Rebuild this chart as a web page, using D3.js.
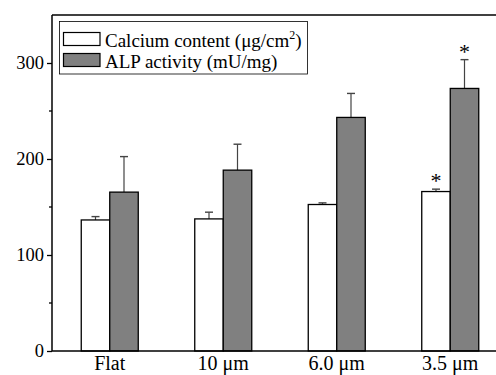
<!DOCTYPE html>
<html>
<head>
<meta charset="utf-8">
<script src="https://cdn.jsdelivr.net/npm/d3@7"></script>
<style>
  body { margin: 0; background: #fff; }
  text { font-family: "Liberation Serif", "Times New Roman", serif; }
</style>
</head>
<body>
<div id="chart"></div>
<script>
// data
var categories = ["Flat", "10 \u03bcm", "6.0 \u03bcm", "3.5 \u03bcm"];
var seriesNames = ["calcium", "alp"];
var calcium = [136.5, 137.6, 152.6, 166.1];
var calciumErr = [3.5, 7, 1.7, 2.5];
var alp = [165.5, 188.4, 243.3, 273.5];
var alpErr = [37, 27, 25, 30];
var starred = [[3, "calcium"], [3, "alp"]];
var yTicks = [0, 100, 200, 300];
var yMinorTicks = [50, 150, 250];

var width = 496, height = 375;
var mLeft = 52, mTop = 15, mBottom = 351;

var svg = d3.select("#chart").append("svg")
  .attr("width", width)
  .attr("height", height);

var x = d3.scaleBand()
  .domain(categories)
  .range([53, 507]);

var xs = d3.scaleBand()
  .domain(seriesNames)
  .range([-28.5, 28.5]);

var y = d3.scaleLinear()
  .domain([0, 350])
  .range([mBottom, mTop]);

var flat = [];
categories.forEach(function (c, i) {
  flat.push({ cat: c, key: "calcium", v: calcium[i], e: calciumErr[i], i: i });
  flat.push({ cat: c, key: "alp", v: alp[i], e: alpErr[i], i: i });
});

var fills = { calcium: "#ffffff", alp: "#808080" };

function barCenter(d) {
  return x(d.cat) + x.bandwidth() / 2 + xs(d.key) + xs.bandwidth() / 2;
}

// error bars (upward only), drawn under the bars
var eb = svg.append("g");
flat.forEach(function (d) {
  var cx = barCenter(d);
  eb.append("line")
    .attr("x1", cx).attr("x2", cx)
    .attr("y1", y(d.v)).attr("y2", y(d.v + d.e))
    .attr("stroke", "#444").attr("stroke-width", 1.2);
  eb.append("line")
    .attr("x1", cx - 4).attr("x2", cx + 4)
    .attr("y1", y(d.v + d.e)).attr("y2", y(d.v + d.e))
    .attr("stroke", "#444").attr("stroke-width", 1.4);
});

// bars
svg.append("g").selectAll("rect")
  .data(flat)
  .enter().append("rect")
  .attr("x", function (d) { return x(d.cat) + x.bandwidth() / 2 + xs(d.key); })
  .attr("y", function (d) { return y(d.v); })
  .attr("width", xs.bandwidth())
  .attr("height", function (d) { return y(0) - y(d.v); })
  .attr("fill", function (d) { return fills[d.key]; })
  .attr("stroke", "#000")
  .attr("stroke-width", 1.3);

// significance stars
starred.forEach(function (s) {
  var d = flat.filter(function (r) { return r.i === s[0] && r.key === s[1]; })[0];
  svg.append("text")
    .attr("x", barCenter(d))
    .attr("y", y(d.v + d.e) - 1)
    .attr("text-anchor", "middle")
    .attr("font-size", 22)
    .text("*");
});

// y axis
var ya = svg.append("g")
  .attr("transform", "translate(" + mLeft + ",0)")
  .call(d3.axisLeft(y).tickValues(yTicks).tickSize(5).tickPadding(3));
ya.select(".domain").remove();
ya.selectAll("text").attr("font-size", 18.5).attr("fill", "#000")
  .attr("font-family", "Liberation Serif");
ya.selectAll("line").attr("stroke-width", 1.3);
svg.append("g").selectAll("line")
  .data(yMinorTicks)
  .enter().append("line")
  .attr("x1", mLeft - 3).attr("x2", mLeft)
  .attr("y1", function (d) { return y(d); })
  .attr("y2", function (d) { return y(d); })
  .attr("stroke", "#000").attr("stroke-width", 1.3);

// x axis
var xa = svg.append("g")
  .attr("transform", "translate(0," + mBottom + ")")
  .call(d3.axisBottom(x).tickSize(0).tickPadding(5));
xa.select(".domain").remove();
xa.selectAll("text").attr("font-size", 20).attr("fill", "#000")
  .attr("font-family", "Liberation Serif");

// frame lines
svg.append("line").attr("x1", mLeft).attr("x2", width)
  .attr("y1", mBottom).attr("y2", mBottom)
  .attr("stroke", "#000").attr("stroke-width", 1.5);
svg.append("line").attr("x1", mLeft).attr("x2", width)
  .attr("y1", mTop).attr("y2", mTop)
  .attr("stroke", "#000").attr("stroke-width", 1.5);
svg.append("line").attr("x1", mLeft).attr("x2", mLeft)
  .attr("y1", mTop).attr("y2", mBottom)
  .attr("stroke", "#000").attr("stroke-width", 1.5);

// legend
var lg = svg.append("g");
lg.append("rect")
  .attr("x", 59.5).attr("y", 21.5)
  .attr("width", 248).attr("height", 52.5)
  .attr("fill", "#fff").attr("stroke", "#000").attr("stroke-width", 0.8);
var legendItems = [
  { key: "calcium", label: "Calcium content (\u03bcg/cm", sup: "2", tail: ")" },
  { key: "alp", label: "ALP activity (mU/mg)" }
];
legendItems.forEach(function (d, i) {
  var yy = 32.5 + i * 21;
  lg.append("rect")
    .attr("x", 63.5).attr("y", yy)
    .attr("width", 36.5).attr("height", 13)
    .attr("fill", fills[d.key]).attr("stroke", "#000").attr("stroke-width", 1.2);
  var t = lg.append("text")
    .attr("x", 105).attr("y", yy + 14)
    .attr("font-size", 19)
    .text(d.label);
  if (d.sup) {
    t.append("tspan").attr("font-size", 12).attr("dy", -8).text(d.sup);
    t.append("tspan").attr("dy", 8).text(d.tail);
  }
});
</script>
</body>
</html>
